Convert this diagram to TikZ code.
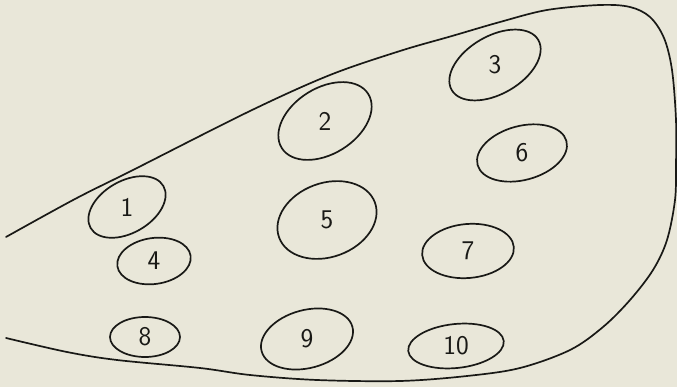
\documentclass[tikz,border=0pt]{standalone}
\definecolor{paper}{RGB}{233,231,217}
\definecolor{ink}{RGB}{25,25,22}
\begin{document}
\begin{tikzpicture}[x=1pt,y=-1pt,
  outline/.style={draw=ink,line width=1.7pt,line join=round,line cap=round},
  blob/.style={draw=ink,line width=1.7pt},
  num/.style={text=ink,font=\sffamily\fontsize{27}{27}\selectfont,inner sep=0pt}]
\fill[paper] (0,0) rectangle (677,387);
\useasboundingbox (0,0) rectangle (677,387);
\draw[outline] plot[smooth,tension=0.55] coordinates {
 (6,237) (75,199) (133,170) (250,111) (330,75) (400,51) (452,36)
 (500,22) (547,10) (600,5) (630,7) (650,17) (664,38) (672,70)
 (676,120) (676,165) (675,200) (667,240) (653,270) (630,300)
 (603,327) (570,350) (520,368) (467,376) (400,381) (317,380) (250,375)
 (200,368) (117,360) (67,352) (6,338)};
\node[num] (n1) at (127,207) {1};
\node[num] (n2) at (325,121) {2};
\node[num] (n3) at (495,65) {3};
\node[num] (n4) at (154,261) {4};
\node[num] (n5) at (327,220) {5};
\node[num] (n6) at (522,153) {6};
\node[num] (n7) at (468,251) {7};
\node[num] (n8) at (145,337) {8};
\node[num] (n9) at (307,339) {9};
\node[num] (n10) at (456,346) {10};
\draw[blob,rotate around={30:(n1.center)}] (n1.center) ellipse [x radius=42pt,y radius=26pt];
\draw[blob,rotate around={32:(n2.center)}] (n2.center) ellipse [x radius=51pt,y radius=33pt];
\draw[blob,rotate around={30:(n3.center)}] (n3.center) ellipse [x radius=50pt,y radius=29pt];
\draw[blob,rotate around={8:(n4.center)}] (n4.center) ellipse [x radius=37pt,y radius=23pt];
\draw[blob,rotate around={20:(n5.center)}] (n5.center) ellipse [x radius=51pt,y radius=37pt];
\draw[blob,rotate around={15:(n6.center)}] (n6.center) ellipse [x radius=46pt,y radius=27pt];
\draw[blob,rotate around={5:(n7.center)}] (n7.center) ellipse [x radius=46pt,y radius=27pt];
\draw[blob] (n8.center) ellipse [x radius=35pt,y radius=20pt];
\draw[blob,rotate around={15:(n9.center)}] (n9.center) ellipse [x radius=47pt,y radius=29pt];
\draw[blob,rotate around={6:(n10.center)}] (n10.center) ellipse [x radius=48pt,y radius=22pt];
\end{tikzpicture}
\end{document}
